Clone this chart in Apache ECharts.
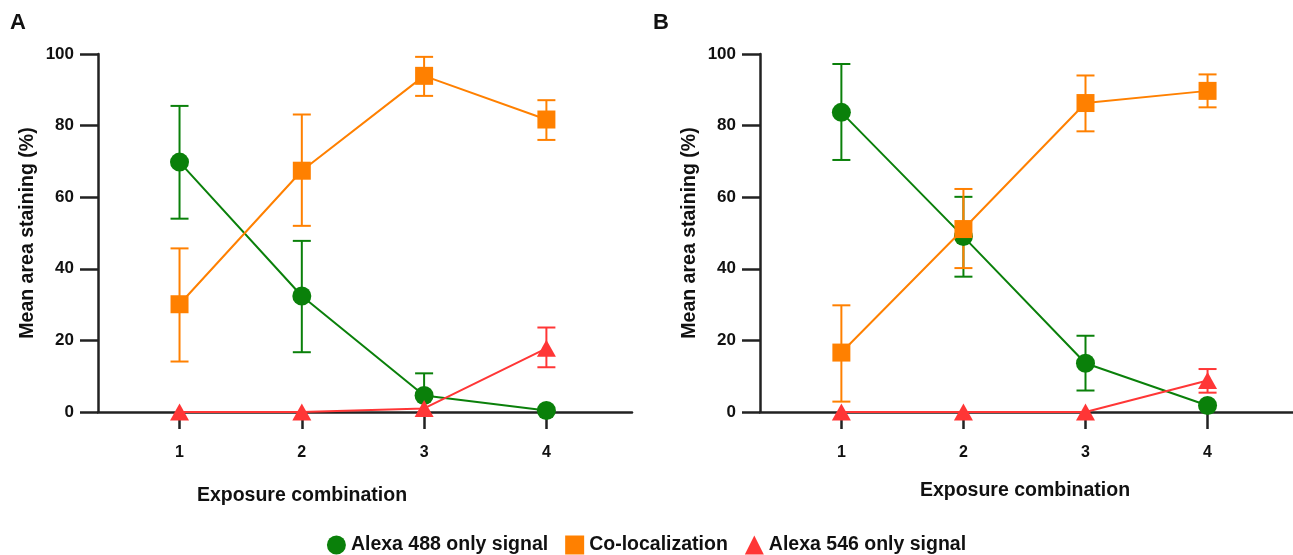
<!DOCTYPE html>
<html><head><meta charset="utf-8">
<script src="https://cdn.jsdelivr.net/npm/echarts@6/dist/echarts.min.js"></script>
<style>html,body{margin:0;padding:0;background:#fff}#c{width:1293px;height:555px}</style>
</head><body><div id="c"></div>
<script>
const categories = [1, 2, 3, 4];
const yTicks = [0, 20, 40, 60, 80, 100];
const seriesNames = ['Alexa 488 only signal', 'Co-localization', 'Alexa 546 only signal'];

// Panel A
const aGreen = [69.8, 32.4, 4.6, 0.4];
const aGreenHi = [85.5, 47.8, 10.8, 0.4];
const aGreenLo = [54.0, 16.7, 0.0, 0.4];
const aOrange = [30.1, 67.4, 93.9, 81.7];
const aOrangeHi = [45.7, 83.1, 99.2, 87.1];
const aOrangeLo = [14.1, 52.0, 88.3, 76.0];
const aRed = [0, 0, 1.0, 17.8];
const aRedHi = [0, 0, 1.0, 23.6];
const aRedLo = [0, 0, 1.0, 12.5];

// Panel B
const bGreen = [83.7, 49.0, 13.6, 1.8];
const bGreenHi = [97.2, 60.1, 21.3, 1.8];
const bGreenLo = [70.4, 37.8, 6.0, 1.8];
const bOrange = [16.6, 51.1, 86.3, 89.7];
const bOrangeHi = [29.8, 62.3, 94.0, 94.3];
const bOrangeLo = [2.9, 40.2, 78.4, 85.1];
const bRed = [0, 0, 0, 8.8];
const bRedHi = [0, 0, 0, 12.0];
const bRedLo = [0, 0, 0, 5.4];

const colors = ['#0a800a', '#ff8000', '#ff3636'];
const symbols = ['circle', 'rect', 'triangle'];
const symbolSizes = [19, 18, [19, 17]];
const FONT = '"Liberation Sans", Arial, sans-serif';

const chart = echarts.init(document.getElementById('c'), null, {renderer: 'canvas'});

function grid(left) {
  return {left: left, top: 54, width: 534, height: 358, containLabel: false};
}
function xAxis(gi) {
  return {
    type: 'value', gridIndex: gi, min: 1/3, max: 4.7,
    axisLine: {show: true, lineStyle: {color: '#222', width: 2.5}},
    axisTick: {show: true, length: 17, lineStyle: {color: '#222', width: 2.5}, customValues: categories},
    axisLabel: {show: true, margin: 33, color: '#111', fontFamily: FONT, fontWeight: 'bold', fontSize: 16, customValues: categories},
    splitLine: {show: false}
  };
}
function yAxis(gi) {
  return {
    type: 'value', gridIndex: gi, min: 0, max: 100, interval: 20,
    name: 'Mean area staining (%)', nameLocation: 'middle', nameGap: 60, nameRotate: 90,
    nameTextStyle: {color: '#111', fontFamily: FONT, fontWeight: 'bold', fontSize: 19.5},
    axisLine: {show: true, lineStyle: {color: '#222', width: 2.5}},
    axisTick: {show: true, length: 18, lineStyle: {color: '#222', width: 2.5}},
    axisLabel: {show: true, margin: 24, color: '#111', fontFamily: FONT, fontWeight: 'bold', fontSize: 17,
      formatter: v => yTicks.includes(v) ? String(v) : ''},
    splitLine: {show: false}
  };
}
function errSeries(gi, idx, hi, lo) {
  return {
    type: 'custom', xAxisIndex: gi, yAxisIndex: gi, z: 2, silent: true,
    clip: false,
    data: categories.map((c, i) => [c, lo[i], hi[i]]),
    renderItem: function (params, api) {
      const x = api.value(0);
      const l = api.value(1), h = api.value(2);
      if (h === l) return null;
      const pH = api.coord([x, h]);
      const pL = api.coord([x, l]);
      const hw = 9;
      const st = {stroke: colors[idx], lineWidth: 2};
      const ch = [
        {type: 'line', shape: {x1: pH[0], y1: pH[1], x2: pL[0], y2: pL[1]}, style: st},
        {type: 'line', shape: {x1: pH[0] - hw, y1: pH[1], x2: pH[0] + hw, y2: pH[1]}, style: st}
      ];
      if (l > 0.01) ch.push({type: 'line', shape: {x1: pL[0] - hw, y1: pL[1], x2: pL[0] + hw, y2: pL[1]}, style: st});
      return {type: 'group', children: ch};
    }
  };
}
function lineSeries(gi, idx, vals) {
  return {
    type: 'line', name: seriesNames[idx], xAxisIndex: gi, yAxisIndex: gi, z: 3 + idx,
    data: categories.map((c, i) => [c, vals[i]]),
    symbol: symbols[idx], symbolSize: symbolSizes[idx], showAllSymbol: true,
    clip: false,
    lineStyle: {color: colors[idx], width: 2},
    itemStyle: {color: colors[idx]},
    emphasis: {disabled: true},
    animation: false
  };
}

const option = {
  animation: false,
  backgroundColor: '#fff',
  grid: [grid(98), grid(760)],
  xAxis: [xAxis(0), xAxis(1)],
  yAxis: [yAxis(0), yAxis(1)],
  legend: {
    top: 535, left: 'center', itemWidth: 19, itemHeight: 19, itemGap: 17, padding: 0,
    data: seriesNames.map((n, i) => ({name: n, icon: symbols[i]})),
    textStyle: {color: '#111', fontFamily: FONT, fontWeight: 'bold', fontSize: 19.5}
  },
  graphic: [
    {type: 'text', left: 10, top: 12, style: {text: 'A', fontFamily: FONT, fontWeight: 'bold', fontSize: 22, fill: '#111'}},
    {type: 'text', left: 653, top: 12, style: {text: 'B', fontFamily: FONT, fontWeight: 'bold', fontSize: 22, fill: '#111'}},
    {type: 'text', x: 302, y: 496, style: {text: 'Exposure combination', fontFamily: FONT, fontWeight: 'bold', fontSize: 19.5, fill: '#111', align: 'center', verticalAlign: 'middle'}},
    {type: 'text', x: 1025, y: 491, style: {text: 'Exposure combination', fontFamily: FONT, fontWeight: 'bold', fontSize: 19.5, fill: '#111', align: 'center', verticalAlign: 'middle'}}
  ],
  series: [
    errSeries(0, 0, aGreenHi, aGreenLo),
    errSeries(0, 1, aOrangeHi, aOrangeLo),
    errSeries(0, 2, aRedHi, aRedLo),
    lineSeries(0, 0, aGreen),
    lineSeries(0, 1, aOrange),
    lineSeries(0, 2, aRed),
    errSeries(1, 0, bGreenHi, bGreenLo),
    errSeries(1, 1, bOrangeHi, bOrangeLo),
    errSeries(1, 2, bRedHi, bRedLo),
    lineSeries(1, 0, bGreen),
    lineSeries(1, 1, bOrange),
    lineSeries(1, 2, bRed)
  ]
};
chart.setOption(option);
</script></body></html>
